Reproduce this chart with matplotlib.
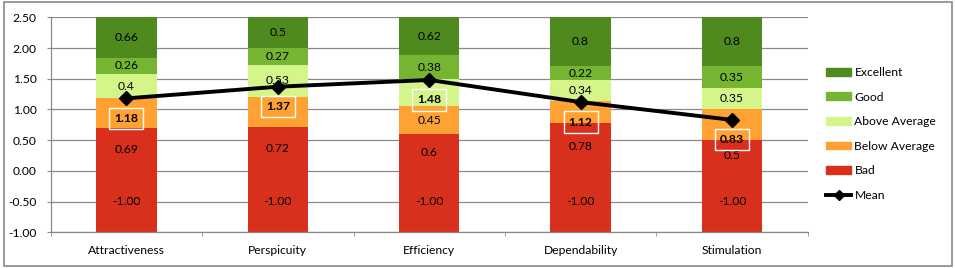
import matplotlib.pyplot as plt
from matplotlib.patches import Rectangle, Patch
from matplotlib.lines import Line2D

categories = ["Attractiveness", "Perspicuity", "Efficiency", "Dependability", "Stimulation"]
base = [-1.00, -1.00, -1.00, -1.00, -1.00]
bad = [0.69, 0.72, 0.6, 0.78, 0.5]
below_average = [0.49, 0.48, 0.45, 0.36, 0.5]
above_average = [0.4, 0.53, 0.45, 0.34, 0.35]
good = [0.26, 0.27, 0.38, 0.22, 0.35]
excellent = [0.66, 0.5, 0.62, 0.8, 0.8]
mean = [1.18, 1.37, 1.48, 1.12, 0.83]

plt.rcParams['font.family'] = ['Lato', 'DejaVu Sans']
plt.rcParams['font.size'] = 8.7

fig = plt.figure(figsize=(9.55, 2.68), dpi=100)
ax = fig.add_axes([50.7 / 955, 1 - 232.3 / 268, 757 / 955, 215 / 268])

# chart border
fig.patches.append(Rectangle((3.5 / 955, 2.5 / 268), 948.5 / 955, 263 / 268,
                             transform=fig.transFigure, fill=False,
                             edgecolor="#8a8a8a", linewidth=1.2))

x = range(len(categories))
width = 0.4
ymax = 2.5
label_drop = 20 / 61.43  # mean label sits ~20px below the marker

series = [
    ("Bad", bad, "#d9301e"),
    ("Below Average", below_average, "#ffa233"),
    ("Above Average", above_average, "#d4f58a"),
    ("Good", good, "#76b531"),
    ("Excellent", excellent, "#4e8a1e"),
]

ax.bar(x, base, width, color="#d9301e", zorder=2)
for i, v in enumerate(base):
    ax.text(i, v / 2, f"{v:.2f}", ha="center", va="center", zorder=5)

bottoms = [0.0] * len(categories)
for name, vals, color in series:
    ax.bar(x, vals, width, bottom=bottoms, color=color, zorder=2)
    for i, v in enumerate(vals):
        lo = bottoms[i]
        hi = min(lo + v, ymax)
        lab_y = mean[i] - label_drop
        if lo <= lab_y < hi:
            continue  # hidden behind the mean label
        ax.text(i, (lo + hi) / 2, f"{v:g}", ha="center", va="center", zorder=5)
    bottoms = [b + v for b, v in zip(bottoms, vals)]

ax.plot(x, mean, color="black", linewidth=2.8, marker="D", markersize=7, zorder=6)
for i, m in enumerate(mean):
    ax.text(i, m - label_drop, f"{m:.2f}", ha="center", va="center", fontweight="bold",
            zorder=7, bbox=dict(boxstyle="square,pad=0.42", facecolor="none",
                                edgecolor="white", linewidth=1))

ax.set_xlim(-0.5, len(categories) - 0.5)
ax.set_ylim(-1.0, 2.5)
ax.set_yticks([-1 + 0.5 * k for k in range(8)])
ax.set_yticklabels([f"{-1 + 0.5 * k:.2f}" for k in range(8)])
ax.set_xticks(list(x))
ax.set_xticklabels(categories)
ax.set_xticks([k - 0.5 for k in range(len(categories) + 1)], minor=True)
ax.tick_params(axis="x", which="major", length=0, pad=9)
ax.tick_params(axis="x", which="minor", length=3, color="#8a8a8a")
ax.tick_params(axis="y", length=3, color="#8a8a8a", pad=7)
ax.grid(axis="y", color="#8a8a8a", linewidth=0.9, zorder=0)
ax.set_axisbelow(True)
for s in ["top", "right"]:
    ax.spines[s].set_visible(False)
for s in ["left", "bottom"]:
    ax.spines[s].set_color("#8a8a8a")
    ax.spines[s].set_linewidth(0.9)

handles = [Patch(color=c, label=n) for n, _, c in reversed(series)]
handles.append(Line2D([], [], color="black", linewidth=2.8, marker="D", markersize=5, label="Mean"))
fig.legend(handles=handles, loc="upper left", bbox_to_anchor=(826 / 955, 1 - 67 / 268),
           frameon=False, fontsize=8.7, handlelength=2.1, handleheight=0.6,
           labelspacing=1.12, handletextpad=0.25, borderpad=0, borderaxespad=0)

fig.savefig("out.png", dpi=100)
